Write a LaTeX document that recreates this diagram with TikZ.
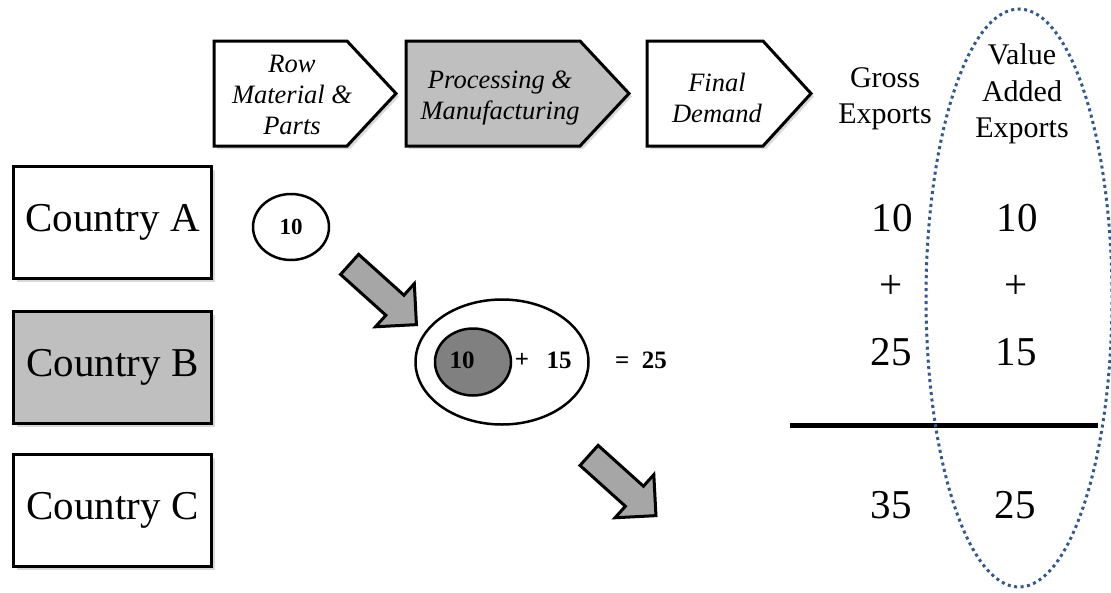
\documentclass[tikz,border=0pt]{standalone}
\usepackage{fontspec}
\setmainfont{Liberation Serif}
\usetikzlibrary{shapes.arrows,shapes.geometric,shadows}
\definecolor{boxgray}{HTML}{BFBFBF}
\definecolor{arrgray}{HTML}{A6A6A6}
\definecolor{innergray}{HTML}{808080}
\definecolor{dotblue}{RGB}{49,89,143}
\begin{document}
\begin{tikzpicture}[x=1pt,y=-1pt,
  shade/.style={drop shadow={opacity=0.3, shadow xshift=3pt, shadow yshift=-3pt}},
  country/.style={draw=black, line width=3.5pt, minimum width=198pt, minimum height=112pt,
    inner sep=0pt, font=\fontsize{41}{44}\selectfont, shade},
  chev/.style={draw=black, line width=3pt, line join=miter, shade},
  chevtext/.style={align=center, inner sep=0pt, font=\fontsize{26.5}{31}\selectfont\itshape},
  head/.style={align=center, inner sep=0pt, font=\fontsize{30}{36.5}\selectfont},
  num/.style={inner sep=0pt, font=\fontsize{41}{44}\selectfont},
  bnum/.style={inner sep=0pt, font=\fontsize{25}{27}\selectfont\bfseries},
  oval/.style={ellipse, draw=black, line width=2.5pt, inner sep=0pt},
  blockarrow/.style={single arrow, draw=black, fill=arrgray, line width=3pt,
    minimum height=90pt, minimum width=55pt, inner sep=12pt,
    single arrow head extend=15.5pt, single arrow tip angle=90, rotate=-42, line join=miter}
]
\useasboundingbox (0,0) rectangle (1111,592);

% country boxes
\node[country, fill=white] (ca) at (112.5,222.5) {Country A};
\node[country, fill=boxgray] (cb) at (112.5,367.5) {Country B};
\node[country, fill=white] (cc) at (112.5,510.5) {Country C};

% chevrons
\path[chev, fill=white] (214,41) -- (347,41) -- (396,93.5) -- (347,146) -- (214,146) -- cycle;
\path[chev, fill=boxgray] (406,41) -- (580,41) -- (629,93.5) -- (580,146) -- (406,146) -- cycle;
\path[chev, fill=white] (647,41) -- (763,41) -- (811,93.5) -- (763,146) -- (647,146) -- cycle;
\node[chevtext] (rm) at (292,95) {Row\\Material \&\\Parts};
\node[chevtext] (pm) at (500,98) {Processing \&\\Manufacturing};
\node[chevtext] (fd) at (717,98) {Final\\Demand};

% headers
\node[head] (ge) at (885,99) {Gross\\Exports};
\node[head] (vae) at (1022,94) {Value\\Added\\Exports};

% country A value
\node[oval, minimum width=76pt, minimum height=66pt, font=\fontsize{23}{25}\selectfont\bfseries] (a10) at (291,227) {10};

% country B values
\node[oval, minimum width=173pt, minimum height=125pt] (bout) at (502,362) {};
\node[oval, fill=innergray, minimum width=76pt, minimum height=67pt] (bin) at (473,362) {};
\node[bnum] (b10) at (462,360) {10};
\node[bnum] (bplus) at (522,360) {+};
\node[bnum] (b15) at (559,360) {15};
\node[bnum] (beq) at (641,360) {=\ \ 25};

% block arrows
\node[blockarrow] (arr1) at (378,290) {};
\node[blockarrow] (arr2) at (617.5,481) {};

% numbers
\node[num] (g10) at (892,218) {10};
\node[num] (gplus) at (891,287) {+};
\node[num] (g25) at (891,352) {25};
\node[num] (v10) at (1017,218) {10};
\node[num] (vplus) at (1016,287) {+};
\node[num] (v15) at (1016,352) {15};
\node[num] (g35) at (891,505) {35};
\node[num] (v25) at (1015,505) {25};

\coordinate (l1) at (790,425);
\coordinate (l2) at (1098,425);
\draw[line width=5pt] (l1) -- (l2);

% dotted ellipse
\node[ellipse, draw=dotblue, line width=3pt, dash pattern=on 3pt off 3.5pt,
  minimum width=186pt, minimum height=578pt, inner sep=0pt] (vaell) at (1019,298) {};
\end{tikzpicture}
\end{document}
